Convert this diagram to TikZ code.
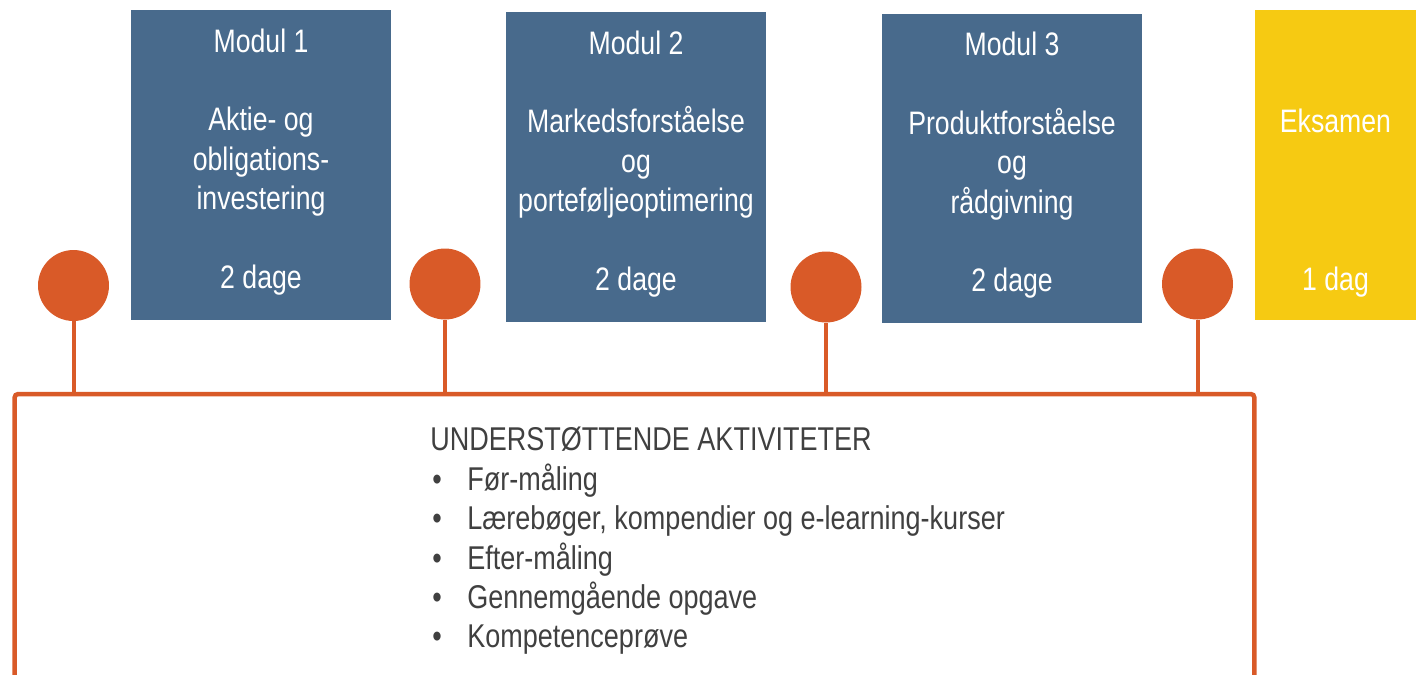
\documentclass[tikz,border=0pt]{standalone}
\usepackage{fontspec}
\setmainfont[FakeStretch=0.82]{Liberation Sans}
\definecolor{modulblue}{HTML}{486A8C}
\definecolor{examyellow}{HTML}{F6CA12}
\definecolor{dotorange}{HTML}{D95A28}
\definecolor{darktext}{HTML}{404040}
\newcommand{\punkt}[1]{\makebox[0.74cm][l]{\hspace{0.04cm}\textbullet}#1}

\begin{document}
\begin{tikzpicture}[
            x=0.02cm, y=-0.02cm,
            box/.style={rectangle, fill=modulblue, text=white, align=center,
                        minimum width=5.2cm, minimum height=6.2cm, inner sep=0pt,
                        text depth=7.5pt, font=\fontsize{18.5}{22.4}\selectfont},
            exam/.style={box, fill=examyellow, minimum width=3.22cm},
            dot/.style={circle, fill=dotorange, minimum size=1.42cm, inner sep=0pt},
            stem/.style={draw=dotorange, line width=0.08cm},
            frame/.style={rectangle, draw=dotorange, line width=0.09cm, rounded corners=2pt,
                          minimum width=24.8cm, minimum height=6.6cm}
        ]
            \useasboundingbox (0,0) rectangle (1416,674);
            \clip (0,0) rectangle (1416,674);

            \node[box] (modul1) at (261,165) {Modul 1\\[22.4pt]Aktie- og\\obligations-\\investering\\[22.4pt]2 dage};
            \node[box] (modul2) at (636,167) {Modul 2\\[22.4pt]Markedsforståelse\\og\\porteføljeoptimering\\[22.4pt]2 dage};
            \node[box] (modul3) at (1012,168.5) {Modul 3\\[22.4pt]Produktforståelse\\og\\rådgivning\\[22.4pt]2 dage};
            \node[exam] (eksamen) at (1335.5,165) {\strut\\[22.4pt]Eksamen\\[67.2pt]1 dag};

            \node[dot] (d1) at (73.5,285.5) {};
            \node[dot] (d2) at (445,284) {};
            \node[dot] (d3) at (826,287) {};
            \node[dot] (d4) at (1197.5,284) {};

            \node[frame] (aktiviteter) at (634.5,559) {};
            \node[anchor=north west, inner sep=0pt, align=left, text=darktext,
                  font=\fontsize{18.75}{22.4}\selectfont] (liste) at (430,427)
                {UNDERSTØTTENDE AKTIVITETER\\
                 \punkt{Før-måling}\\
                 \punkt{Lærebøger, kompendier og e-learning-kurser}\\
                 \punkt{Efter-måling}\\
                 \punkt{Gennemgående opgave}\\
                 \punkt{Kompetenceprøve}};

            \foreach \d in {d1,d2,d3,d4}
                \draw[stem] (\d.south) -- (\d |- aktiviteter.north);
        \end{tikzpicture}
\end{document}
